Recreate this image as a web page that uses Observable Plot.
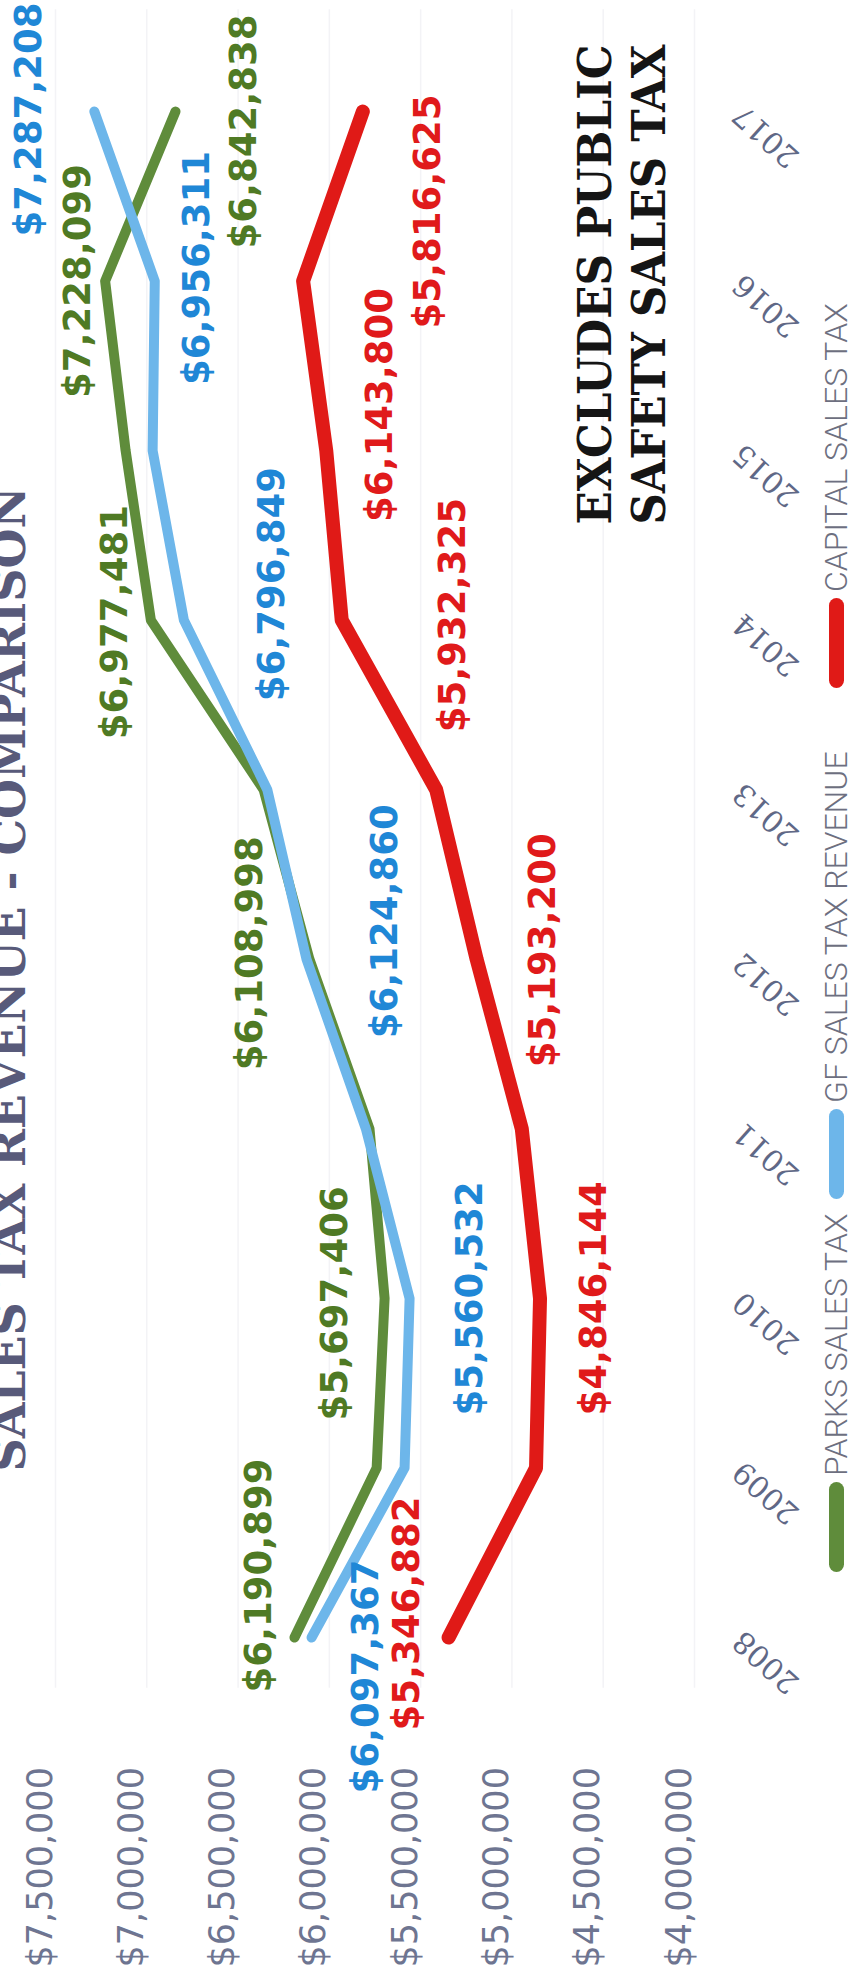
<!DOCTYPE html>
<html><head><meta charset="utf-8">
<script src="https://cdn.jsdelivr.net/npm/d3@7"></script>
<script src="https://cdn.jsdelivr.net/npm/@observablehq/plot@0.6"></script>
<style>
html,body{margin:0;padding:0;background:#fff;}
#wrap{position:relative;width:856px;height:1980px;overflow:hidden;background:#fff;}
#wrap svg{position:absolute;left:0;top:0;}
#legend{position:absolute;left:818px;top:1572px;width:1300px;height:36px;transform-origin:0 0;transform:rotate(-90deg);font-family:Roboto,"Open Sans",sans-serif;font-weight:300;font-size:32px;line-height:36px;color:#6d6f80;white-space:nowrap;}
#legend .item{position:absolute;top:0;height:36px;display:flex;align-items:center;}
#legend .pill{display:inline-block;width:90px;height:15px;border-radius:8px;margin-right:6px;}
</style></head>
<body><div id="wrap"></div>
<script>
const years = [2008, 2009, 2010, 2011, 2012, 2013, 2014, 2015, 2016, 2017];
const parks   = [6190899, 5741000, 5697406, 5780000, 6108998, 6360000, 6977481, 7116000, 7228099, 6842838];
const gf      = [6097367, 5588000, 5560532, 5800000, 6124860, 6340000, 6796849, 6968000, 6956311, 7287208];
const capital = [5346882, 4868000, 4846144, 4946000, 5193200, 5415000, 5932325, 6017000, 6143800, 5816625];
const seriesNames = ["PARKS SALES TAX", "GF SALES TAX REVENUE", "CAPITAL SALES TAX"];
const valueTicks = [7500000, 7000000, 6500000, 6000000, 5500000, 5000000, 4500000, 4000000];
const labelledYears = [2008, 2010, 2012, 2014, 2016, 2017];
const title = "SALES TAX REVENUE - COMPARISON";
const note = ["EXCLUDES PUBLIC", "SAFETY SALES TAX"];

// styling (kept apart from the data)
const lineColors = ["#5f8c3b", "#6db6ea", "#e01a17"];
const labelColors = ["#4f7a24", "#1f87d6", "#e01a1b"];
const lineWidths = [10, 10, 14];
// hand placement of each value label relative to its point [dx, dy] in px
const labelNudge = [
  {2008: [-35, -62], 2010: [-49, 5], 2012: [-59, -6], 2014: [-36, 2], 2016: [-27, 0], 2017: [69, 20]},
  {2008: [55, 39], 2010: [61, 0], 2012: [79, -38], 2014: [88, -36], 2016: [42, -13], 2017: [-65, 8]},
  {2008: [-41, -24], 2010: [54, 0], 2012: [67, -9], 2014: [111, -5], 2016: [77, 124], 2017: [65, 100]}
];

const seriesValues = [parks, gf, capital];
const rows = seriesValues.flatMap((vals, i) => years.map((yr, j) => ({series: seriesNames[i], si: i, year: yr, value: vals[j]})));
const fmt = d3.format("$,.0f");

const lineMarks = seriesNames.map((name, i) =>
  Plot.line(rows.filter(r => r.si === i), {x: "value", y: "year", stroke: lineColors[i], strokeWidth: lineWidths[i], strokeLinecap: "round", strokeLinejoin: "round"})
);
const labelMarks = rows.filter(r => labelledYears.includes(r.year)).map(r =>
  Plot.text([r], {x: "value", y: "year", text: d => fmt(d.value), rotate: -90, dx: labelNudge[r.si][r.year][0], dy: labelNudge[r.si][r.year][1],
    fill: labelColors[r.si], fontSize: 37, fontWeight: "bold", fontFamily: "DejaVu Sans"})
);

const chart = Plot.plot({
  width: 856, height: 1980, margin: 0,
  x: {domain: [7500000, 4000000], range: [55, 694], axis: null},
  y: {domain: [2008, 2017], range: [1637, 111], axis: null},
  style: {background: "transparent", overflow: "visible"},
  marks: [
    Plot.ruleX(valueTicks, {x: d => d, y1: 2007.7, y2: 2017.6, stroke: "#f3f3f6", strokeWidth: 1.5}),
    Plot.text(valueTicks, {x: d => d, frameAnchor: "bottom", dy: -13, dx: -4, rotate: -90, textAnchor: "start", text: d => fmt(d),
      fontSize: 35, fontFamily: "DejaVu Sans", fill: "#6e7591"}),
    Plot.text(years, {y: d => d, frameAnchor: "left", dx: 794, dy: 50, rotate: -138, text: d => String(d),
      fontSize: 30, fontFamily: "DejaVu Serif", fill: "#5f6886"}),
    ...lineMarks,
    ...labelMarks,
    Plot.text([title], {frameAnchor: "top-left", dx: 24, dy: 1471, rotate: -90, textAnchor: "start", lineAnchor: "bottom",
      text: d => d, fontSize: 46, fontWeight: "bold", fontFamily: "DejaVu Serif", fill: "#585a7a"}),
    Plot.text([note[0]], {frameAnchor: "top-left", dx: 578, dy: 524, rotate: -90, textAnchor: "start", text: d => d,
      fontSize: 46, fontWeight: "bold", fontFamily: "DejaVu Serif", fill: "#151515"}),
    Plot.text([note[1]], {frameAnchor: "top-left", dx: 632, dy: 524, rotate: -90, textAnchor: "start", text: d => d,
      fontSize: 46, fontWeight: "bold", fontFamily: "DejaVu Serif", fill: "#151515"})
  ]
});

// stretch the long headings to their measured lengths
d3.select(chart).selectAll("text").each(function() {
  const t = this.textContent;
  if (t === title) { this.setAttribute("textLength", 985); this.setAttribute("lengthAdjust", "spacingAndGlyphs"); }
  if (t === note[0] || t === note[1]) { this.setAttribute("textLength", 480); this.setAttribute("lengthAdjust", "spacingAndGlyphs"); }
});

const wrap = document.getElementById("wrap");
wrap.appendChild(chart);

// legend (rotated like the chart)
const legend = document.createElement("div");
legend.id = "legend";
const itemStarts = [0, 373, 884];
seriesNames.forEach((name, i) => {
  const item = document.createElement("div");
  item.className = "item";
  item.style.left = itemStarts[i] + "px";
  const pill = document.createElement("span");
  pill.className = "pill";
  pill.style.background = lineColors[i];
  item.appendChild(pill);
  const lab = document.createElement("span");
  lab.textContent = name;
  item.appendChild(lab);
  legend.appendChild(item);
});
wrap.appendChild(legend);
</script>
</body></html>
